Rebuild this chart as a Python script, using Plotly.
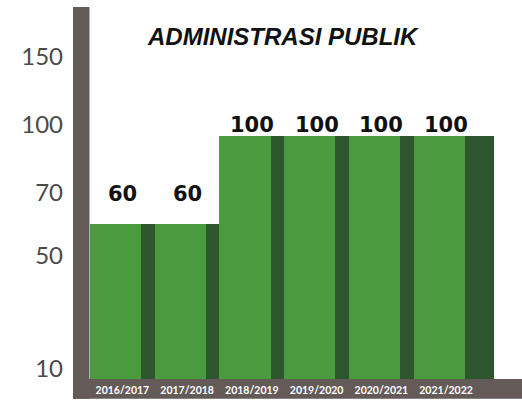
import plotly.graph_objects as go

# ---- data ----
categories = ["2016/2017", "2017/2018", "2018/2019", "2019/2020", "2020/2021", "2021/2022"]
values = [60, 60, 100, 100, 100, 100]
tick_labels = ["10", "50", "70", "100", "150"]
tick_positions = [-6, 45.6, 73.9, 104.8, 136]   # where the labels sit on the (decorative) scale
title_text = "ADMINISTRASI PUBLIK"

# ---- style ----
AXIS_FLOOR = -10.6
AXIS_TOP = 158.4
GREEN = "#4a9a3e"
DARK = "#2e562e"
GRAY = "#645a58"
green_w = 0.79
dark_w = [0.21, 0.21, 0.21, 0.21, 0.21, 0.45]
label_yshift = [16, 16, -3, -3, -3, -3]

lengths = [v - AXIS_FLOOR for v in values]

fig = go.Figure()
fig.add_trace(go.Bar(
    x=categories, y=lengths, base=AXIS_FLOOR,
    width=green_w, offset=-0.5,
    marker=dict(color=GREEN, line=dict(width=0)),
    hoverinfo="skip",
))
fig.add_trace(go.Bar(
    x=categories, y=lengths, base=AXIS_FLOOR,
    width=dark_w, offset=-0.5 + green_w,
    marker=dict(color=DARK, line=dict(width=0)),
    hoverinfo="skip",
))

for i, (c, v) in enumerate(zip(categories, values)):
    fig.add_annotation(
        x=c, y=v, text=str(v), showarrow=False,
        yanchor="bottom", xanchor="center", yshift=label_yshift[i],
        font=dict(family="DejaVu Sans", size=21, color="#111111", weight="bold"),
    )

fig.add_annotation(
    xref="paper", yref="paper", x=0.478, y=0.92, text=title_text,
    showarrow=False, xanchor="center", yanchor="middle",
    font=dict(family="Liberation Sans", size=24, color="#111111",
              weight="bold", style="italic"),
)

# thick gray axis bars
fig.add_shape(type="rect", xref="paper", yref="paper",
              x0=-17 / 404, x1=-0.5 / 404, y0=-20 / 376, y1=1.0,
              fillcolor=GRAY, line=dict(width=0), layer="above")
fig.add_shape(type="rect", xref="paper", yref="paper",
              x0=-17 / 404, x1=432 / 404, y0=-20 / 376, y1=0.0,
              fillcolor=GRAY, line=dict(width=0), layer="below")

fig.update_layout(
    width=522, height=403,
    margin=dict(l=90, r=28, t=7, b=20),
    paper_bgcolor="white", plot_bgcolor="white",
    barmode="overlay", bargap=0, showlegend=False,
    xaxis=dict(
        type="category", range=[-0.5, 5.74],
        showgrid=False, zeroline=False, showline=False, ticks="",
        ticklabelstandoff=3,
        tickfont=dict(family="Lato", size=10.5, color="white", weight="bold"),
        fixedrange=True,
    ),
    yaxis=dict(
        range=[AXIS_FLOOR, AXIS_TOP],
        tickvals=tick_positions, ticktext=tick_labels,
        showgrid=False, zeroline=False, showline=False, ticks="",
        ticklabelstandoff=26,
        tickfont=dict(family="Lato", size=24, color="#4a4a4a"),
        fixedrange=True,
    ),
)

fig.write_html("out.html", config={"displayModeBar": False},
               post_script="document.body.style.margin='0';")
